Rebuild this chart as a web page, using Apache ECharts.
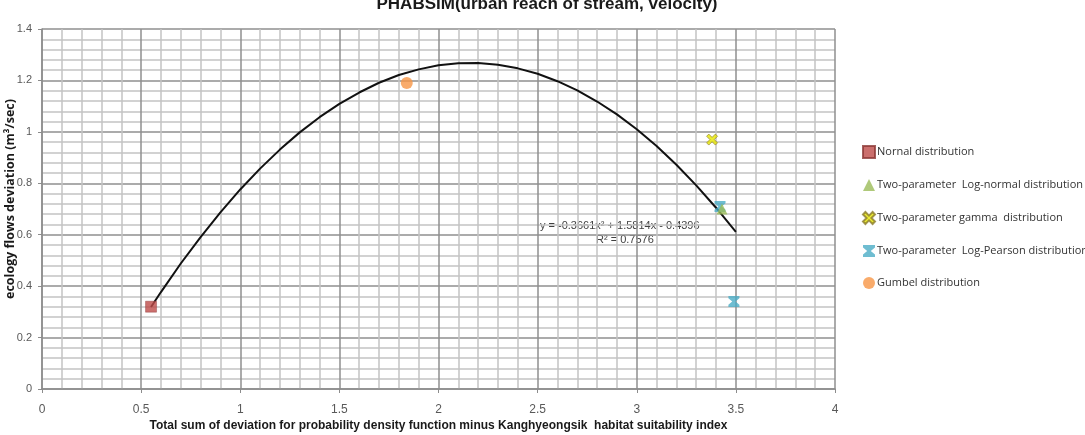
<!DOCTYPE html>
<html>
<head>
<meta charset="utf-8">
<script src="https://cdn.jsdelivr.net/npm/echarts@6/dist/echarts.min.js"></script>
<style>
  html, body { margin: 0; padding: 0; background: #fff; }
  #chart { width: 1085px; height: 435px; }
</style>
</head>
<body>
<div id="chart"></div>
<script>
// ====== data ======
const seriesNames = [
  "Nornal distribution",
  "Two-parameter  Log-normal distribution",
  "Two-parameter gamma  distribution",
  "Two-parameter  Log-Pearson distribution",
  "Gumbel distribution"
];
const normalPts     = [[0.55, 0.32]];
const logNormalPts  = [[3.43, 0.70]];
const gammaPts      = [[3.38, 0.97]];
const logPearsonPts = [[3.42, 0.71], [3.49, 0.34]];
const gumbelPts     = [[1.84, 1.19]];

// trend curve, points
const trendX = [0.55, 0.6, 0.7, 0.8, 0.9, 1.0, 1.1, 1.2, 1.3, 1.4, 1.5, 1.6, 1.7, 1.8, 1.9, 2.0,
                2.1, 2.2, 2.3, 2.4, 2.5, 2.6, 2.7, 2.8, 2.9, 3.0, 3.1, 3.2, 3.3, 3.4, 3.5];
const trendY = [0.319, 0.377, 0.488, 0.591, 0.687, 0.776, 0.857, 0.931, 0.998, 1.057, 1.109,
                1.153, 1.191, 1.221, 1.243, 1.259, 1.267, 1.268, 1.261, 1.247, 1.226, 1.197,
                1.161, 1.118, 1.068, 1.010, 0.945, 0.872, 0.792, 0.705, 0.611];

const xTicks = [0, 0.5, 1, 1.5, 2, 2.5, 3, 3.5, 4];
const yTicks = [0, 0.2, 0.4, 0.6, 0.8, 1, 1.2, 1.4];

const eqText = "y = -0.3661x\u00b2 + 1.5814x - 0.4396";
const r2Text = "R\u00b2 = 0.7576";

// ====== chart ======
const chart = echarts.init(document.getElementById("chart"));

const xSym = "path://M0,2 L2,0 L5,3 L8,0 L10,2 L7,5 L10,8 L8,10 L5,7 L2,10 L0,8 L3,5 Z";
const starSym = "path://M0,0 L10,0 L10,2 L6.5,5 L10,8 L10,10 L0,10 L0,8 L3.5,5 L0,2 Z";

const font = "'Open Sans', 'Noto Sans', sans-serif";
const narrow = "'Liberation Sans Narrow', 'Liberation Sans', sans-serif";

const option = {
  backgroundColor: "#fff",
  animation: false,
  title: {
    text: "PHABSIM(urban reach of stream, velocity)",
    left: 542, top: -9, textAlign: "center",
    textStyle: { fontSize: 17, fontWeight: "bold", color: "#1a1a1a", fontFamily: narrow }
  },
  grid: { left: 42, right: 250, top: 29, bottom: 46, containLabel: false, outerBoundsMode: "none" },
  legend: {
    orient: "vertical", left: 857, top: 140, itemGap: 20,
    itemWidth: 12, itemHeight: 12,
    data: seriesNames,
    textStyle: { fontSize: 11, color: "#333", fontFamily: font, padding: [0, 0, 0, -3] }
  },
  xAxis: {
    type: "value", min: 0, max: 4, interval: 0.5,
    name: "Total sum of deviation for probability density function minus Kanghyeongsik  habitat suitability index",
    nameLocation: "middle", nameGap: 31, nameMoveOverlap: false,
    nameTextStyle: { fontSize: 12, fontWeight: "bold", color: "#1a1a1a", fontFamily: narrow },
    axisLine: { onZero: false, lineStyle: { color: "#8c8c8c", width: 1.5 } },
    axisTick: { show: true, length: 4, lineStyle: { color: "#8c8c8c" } },
    axisLabel: { color: "#595959", fontSize: 12, margin: 15, fontFamily: narrow,
      formatter: v => xTicks.includes(v) ? String(v) : "" },
    splitLine: { show: true, lineStyle: { color: "#8f8f8f", width: 1.5 } },
    minorTick: { show: false, splitNumber: 5 },
    minorSplitLine: { show: true, lineStyle: { color: "#c4c4c4", width: 1.5 } }
  },
  yAxis: {
    type: "value", min: 0, max: 1.4, interval: 0.2,
    name: "ecology flows deviation (m\u00b3/sec)",
    nameLocation: "middle", nameGap: 25, nameMoveOverlap: false,
    nameTextStyle: { fontSize: 12.5, fontWeight: "bold", color: "#1a1a1a", fontFamily: font,
      padding: [0, 0, 0, 20] },
    axisLine: { show: true, lineStyle: { color: "#8c8c8c", width: 1.5 } },
    axisTick: { show: true, length: 4, lineStyle: { color: "#8c8c8c" } },
    axisLabel: { color: "#595959", fontSize: 11, margin: 10, fontFamily: narrow,
      formatter: v => yTicks.includes(+v.toFixed(1)) ? String(+v.toFixed(1)) : "" },
    splitLine: { show: true, lineStyle: { color: "#8f8f8f", width: 1.5 } },
    minorTick: { show: false, splitNumber: 5 },
    minorSplitLine: { show: true, lineStyle: { color: "#c4c4c4", width: 1.5 } }
  },
  graphic: [
    { type: "text", left: 540, top: 220,
      style: { text: eqText, fontSize: 11, fill: "#404040", fontFamily: narrow } },
    { type: "text", left: 596, top: 234,
      style: { text: r2Text, fontSize: 11, fill: "#404040", fontFamily: narrow } }
  ],
  series: [
    {
      name: "trend", type: "line", showSymbol: false, silent: true,
      data: trendX.map((x, i) => [x, trendY[i]]),
      lineStyle: { color: "#111", width: 2 }, z: 3
    },
    {
      name: seriesNames[0], type: "scatter", symbol: "rect", symbolSize: 11,
      data: normalPts, itemStyle: { color: "#be4b48", borderColor: "#8c3836", borderWidth: 0.5 }, z: 4
    },
    {
      name: seriesNames[3], type: "scatter", symbol: starSym, symbolSize: 11,
      data: logPearsonPts, itemStyle: { color: "#4bacc6" }, z: 4
    },
    {
      name: seriesNames[1], type: "scatter", symbol: "triangle", symbolSize: 11,
      data: logNormalPts, itemStyle: { color: "#9bbb59" }, z: 5
    },
    {
      name: seriesNames[2], type: "scatter", symbol: xSym, symbolSize: 11,
      data: gammaPts, itemStyle: { color: "#e6e600", borderColor: "#8a7a2a", borderWidth: 0.8 }, z: 4
    },
    {
      name: seriesNames[4], type: "scatter", symbol: "circle", symbolSize: 12,
      data: gumbelPts, itemStyle: { color: "#f79646" }, z: 4
    }
  ]
};

chart.setOption(option);
</script>
</body>
</html>
